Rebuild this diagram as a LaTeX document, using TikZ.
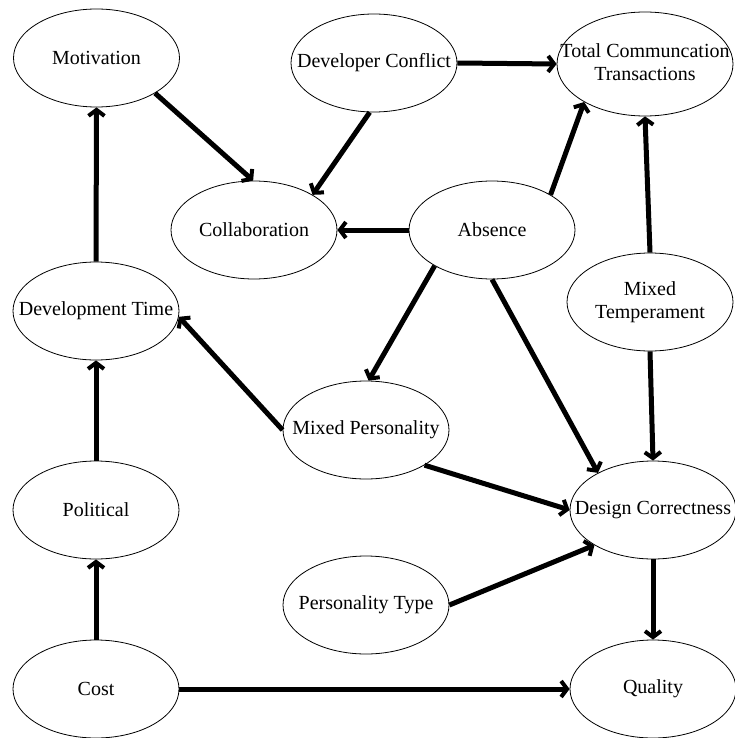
\documentclass[tikz,border=0pt]{standalone}
\usepackage{fontspec}
\setmainfont{Liberation Serif}
\usetikzlibrary{shapes.geometric,arrows.meta}
\newcommand\zb[1]{\makebox[0pt]{#1}}
\newcommand\twol[2]{\makebox[0pt]{\begin{tabular}{@{}c@{}}#1\\#2\end{tabular}}}
\begin{document}
\begin{tikzpicture}[x=1pt,y=-1pt,
  ell/.style={draw,ellipse,line width=0.8pt,inner sep=0pt,minimum width=166pt,minimum height=98pt,
    font=\fontsize{20}{23}\selectfont},
  big/.style={minimum width=176pt,minimum height=104pt},
  arr/.style={line width=5pt,-{Straight Barb[length=6pt,width=16pt,line width=4pt]}}]
\useasboundingbox (0,0) rectangle (735,738);
\node[ell] (mot) at (96.5,58) {\zb{Motivation}};
\node[ell] (dev) at (374,63) {\zb{Developer Conflict}};
\node[ell,big] (tct) at (645,64) {\twol{Total Communcation}{Transactions}};
\node[ell] (col) at (254,230) {\zb{Collaboration}};
\node[ell] (abs) at (492,230) {\zb{Absence}};
\node[ell] (dtime) at (96,311) {\zb{Development Time}};
\node[ell] (mt) at (650,302) {\twol{Mixed}{Temperament}};
\node[ell] (mp) at (366,430) {\zb{Mixed Personality}};
\node[ell] (pol) at (96,510) {\zb{Political}};
\node[ell] (dc) at (653,510) {\zb{Design Correctness}};
\node[ell] (pt) at (366,605) {\zb{Personality Type}};
\node[ell] (cost) at (96,689) {\zb{Cost}};
\node[ell] (qual) at (653,689) {\zb{Quality}};
\draw[arr] (mot.-31) -- (col.91);
\draw[arr] (dev.-95) -- (col.31);
\draw[arr] (dev.east) -- (tct.west);
\draw[arr] (abs.31) -- (tct.-148);
\draw[arr] (abs.west) -- (col.east);
\draw[arr] (mt.north) -- (tct.south);
\draw[arr] (abs.-148) -- (mp.87);
\draw[arr] (abs.-90) -- (dc.146);
\draw[arr] (mt.south) -- (dc.north);
\draw[arr] (mp.west) -- (dtime.-4);
\draw[arr] (mp.-31) -- (dc.west);
\draw[arr] (pt.east) -- (dc.-149);
\draw[arr] (dc.south) -- (qual.north);
\draw[arr] (cost.east) -- (qual.west);
\draw[arr] (cost.north) -- (pol.south);
\draw[arr] (pol.north) -- (dtime.south);
\draw[arr] (dtime.north) -- (mot.south);
\end{tikzpicture}
\end{document}
